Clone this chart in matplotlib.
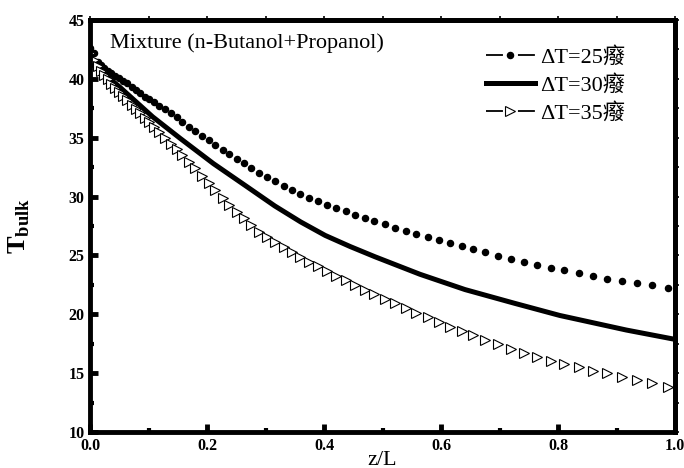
import numpy as np
import matplotlib
matplotlib.use("Agg")
import matplotlib.pyplot as plt
from matplotlib.lines import Line2D
from matplotlib.ticker import MultipleLocator, FormatStrFormatter

plt.rcParams['font.family'] = ['Liberation Serif', 'Noto Sans CJK TC']
plt.rcParams['mathtext.fontset'] = 'custom'
plt.rcParams['mathtext.rm'] = 'Liberation Serif'
plt.rcParams['mathtext.bf'] = 'Liberation Serif:bold'
plt.rcParams['lines.scale_dashes'] = False

# shared z/L positions of the symbols
z = [0.000, 0.007, 0.013, 0.019, 0.024, 0.030, 0.036, 0.043, 0.050, 0.057,
     0.064, 0.072, 0.079, 0.086, 0.094, 0.101, 0.109, 0.118, 0.128, 0.138,
     0.148, 0.158, 0.169, 0.179, 0.191, 0.203, 0.214, 0.227, 0.238, 0.251,
     0.263, 0.276, 0.289, 0.303, 0.317, 0.331, 0.345, 0.359, 0.374, 0.389,
     0.405, 0.421, 0.437, 0.453, 0.470, 0.486, 0.504, 0.522, 0.540, 0.558,
     0.577, 0.597, 0.616, 0.636, 0.655, 0.676, 0.698, 0.720, 0.742, 0.764,
     0.788, 0.810, 0.836, 0.860, 0.884, 0.909, 0.935, 0.961, 0.988]

t_dt25 = [42.6, 42.2, 41.46, 41.18, 40.9, 40.69, 40.52, 40.27, 40.05, 39.84,
          39.62, 39.33, 39.05, 38.77, 38.48, 38.25, 38.0, 37.72, 37.4, 37.08,
          36.75, 36.35, 35.9, 35.54, 35.14, 34.78, 34.38, 33.95, 33.58, 33.19,
          32.82, 32.42, 32.03, 31.64, 31.3, 30.92, 30.56, 30.22, 29.9, 29.62,
          29.31, 29.03, 28.75, 28.46, 28.2, 27.95, 27.64, 27.35, 27.1, 26.82,
          26.56, 26.33, 26.05, 25.8, 25.52, 25.26, 24.97, 24.72, 24.46, 24.2,
          23.96, 23.73, 23.5, 23.25, 23.02, 22.8, 22.62, 22.45, 22.2]

t_dt35 = [42.2, 41.6, 41.1, 40.65, 40.3, 39.95, 39.6, 39.25, 38.9, 38.55,
          38.2, 37.8, 37.45, 37.1, 36.7, 36.35, 35.95, 35.5, 35.0, 34.5,
          34.0, 33.5, 32.96, 32.4, 31.75, 31.15, 30.55, 29.9, 29.3, 28.71,
          28.15, 27.58, 27.03, 26.53, 26.1, 25.74, 25.31, 24.89, 24.46, 24.1,
          23.67, 23.28, 22.91, 22.49, 22.06, 21.72, 21.27, 20.93, 20.5, 20.13,
          19.74, 19.37, 18.94, 18.58, 18.2, 17.81, 17.45, 17.05, 16.73, 16.34,
          16.03, 15.75, 15.49, 15.2, 14.98, 14.69, 14.41, 14.13, 13.79]

z_dt30 = [0.0, 0.005, 0.050, 0.107, 0.154, 0.211, 0.268, 0.316, 0.360,
          0.402, 0.445, 0.487, 0.564, 0.641, 0.726, 0.803, 0.917, 1.0]
t_dt30 = [41.5, 41.18, 39.34, 36.78, 34.95, 32.8, 30.85, 29.2, 27.85,
          26.7, 25.75, 24.89, 23.4, 22.1, 20.93, 19.9, 18.66, 17.87]

labels = ['\u0394T=25\u7648', '\u0394T=30\u7648', '\u0394T=35\u7648']

fig = plt.figure(figsize=(6.84, 4.68), dpi=100)
ax = fig.add_axes([90 / 684, 1 - 432 / 468, 585 / 684, 412 / 468])

ax.plot(z, t_dt25, ls='none', marker='o', ms=4.4, color='k')
ax.plot(z_dt30, t_dt30, color='k', lw=3.6, solid_capstyle='butt')
ax.plot(z, t_dt35, ls='none', marker='>', ms=7.5, mfc='white', mec='k', mew=0.8)

ax.set_xlim(0, 1)
ax.set_ylim(10, 45)
ax.xaxis.set_major_locator(MultipleLocator(0.2))
ax.xaxis.set_minor_locator(MultipleLocator(0.1))
ax.yaxis.set_major_locator(MultipleLocator(5))
ax.yaxis.set_minor_locator(MultipleLocator(2.5))
ax.xaxis.set_major_formatter(FormatStrFormatter('%.1f'))

for sp in ax.spines.values():
    sp.set_linewidth(3.5)
ax.tick_params(which='major', direction='in', length=6, width=3.5, labelsize=11.5, pad=4)
ax.tick_params(which='minor', direction='in', length=3, width=3)
for lab in ax.get_xticklabels() + ax.get_yticklabels():
    lab.set_fontweight('bold')

# thin outward ticks on the top and right frame
sec_x = ax.secondary_xaxis('top')
sec_x.set_xticks(np.arange(0, 1.01, 0.1))
sec_x.tick_params(direction='out', length=3, width=1.2, labeltop=False)
sec_x.spines['top'].set_linewidth(3.5)
sec_y = ax.secondary_yaxis('right')
sec_y.set_yticks(np.arange(10, 45.1, 2.5))
sec_y.tick_params(direction='out', length=3, width=1.2, labelright=False)
sec_y.spines['right'].set_linewidth(3.5)

ax.set_xlabel('z/L', fontsize=16)
ax.xaxis.set_label_coords(0.5, -0.045)
ax.set_ylabel(r'$\mathbf{T}_{\mathbf{bulk}}$', fontsize=19)
ax.yaxis.set_label_coords(-0.1, 0.5)

ax.text(0.034, 0.945, 'Mixture (n-Butanol+Propanol)', transform=ax.transAxes,
        fontsize=16, va='center', ha='left')

handles = [
    Line2D([], [], color='k', lw=1.3, ls=(0, (12.2, 10.8)), marker='o', ms=4.4),
    Line2D([], [], color='k', lw=3.6),
    Line2D([], [], color='k', lw=1.3, ls=(0, (12.2, 10.8)), marker='>', ms=7.5,
           mfc='white', mew=0.8),
]
ax.legend(handles, labels, loc='upper left', bbox_to_anchor=(0.677, 0.935),
          frameon=False, fontsize=16, handlelength=2.2, handletextpad=0.25,
          labelspacing=0.32, borderpad=0, borderaxespad=0)

fig.savefig('out.png', dpi=100)
